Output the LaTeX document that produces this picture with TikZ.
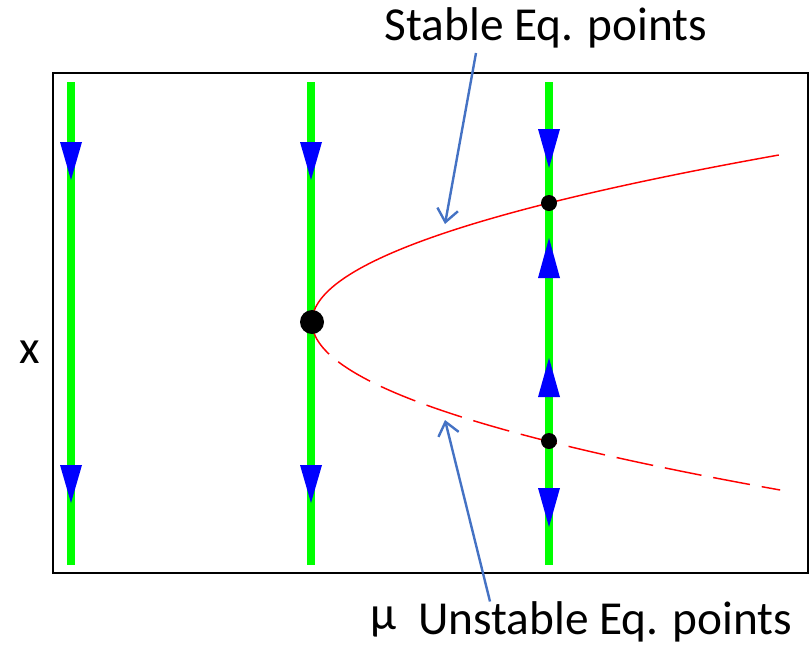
\documentclass[tikz,border=0pt]{standalone}
\usepackage{fontspec}
\setmainfont{Carlito}
\usepackage{xcolor}
\usepackage{tikz}
\usetikzlibrary{arrows.meta,positioning,calc}
\definecolor{flowgreen}{RGB}{0,255,0}
\definecolor{flowblue}{RGB}{0,0,255}
\definecolor{callblue}{RGB}{68,114,196}
\definecolor{branchred}{RGB}{255,0,0}

\begin{document}
\begin{tikzpicture}[x=0.75pt,y=-0.75pt,font=\fontsize{35.5}{40}\selectfont,
  flowline/.style={flowgreen,line width=6pt},
  eqdot/.style={circle,fill=black,inner sep=0pt,minimum size=#1},
  callout/.style={callblue,line width=1.8pt,-{Straight Barb[length=3.4mm,width=5.5mm]}}]
  \useasboundingbox (0,0) rectangle (810,647);
  % frame
  \draw[line width=1.8pt] (53,73) rectangle (808,573);
  % phase lines for three values of mu
  \foreach \px in {71,311,549}
    \draw[flowline] (\px,82) -- (\px,565);
  % flow directions: (x, base y, tip y)
  \foreach \px/\yb/\yt in {71/142/180, 71/465/503, 311/142/180, 311/465/503,
                           549/129/168, 549/278/238, 549/397/358, 549/488/527}
    \fill[flowblue] (\px-11,\yb) -- (\px+11,\yb) -- (\px,\yt) -- cycle;
  % branches of equilibria
  \draw[branchred,line width=1.1pt] plot[domain=0:167,samples=60,smooth]
    ({312+0.01674*\x*\x},{322-\x});
  \draw[branchred,line width=1.1pt,dash pattern=on 28pt off 9pt] plot[domain=0:168,samples=60,smooth]
    ({312+0.01658*\x*\x},{322+\x});
  % equilibrium points
  \node[eqdot=18pt] (bif) at (312,322) {};
  \node[eqdot=12pt] (stab) at (549,203) {};
  \node[eqdot=12pt] (unst) at (549,441) {};
  % labels
  \node (xlab) at (30,352) {x};
  \node (stablab) at (546,28) {Stable Eq. points};
  \node[anchor=west,inner sep=0pt] (unstlab) at (418,622) {Unstable Eq. points};
  \node[left=16pt of unstlab.west,inner sep=0pt] (mulab) {µ};
  \coordinate (stabtip) at (445,224);
  \coordinate (unsttip) at (445,420);
  \draw[callout] (stablab.south -| 476,48) -- (stabtip);
  \draw[callout] (unstlab.north -| 490,596) -- (unsttip);
\end{tikzpicture}
\end{document}
